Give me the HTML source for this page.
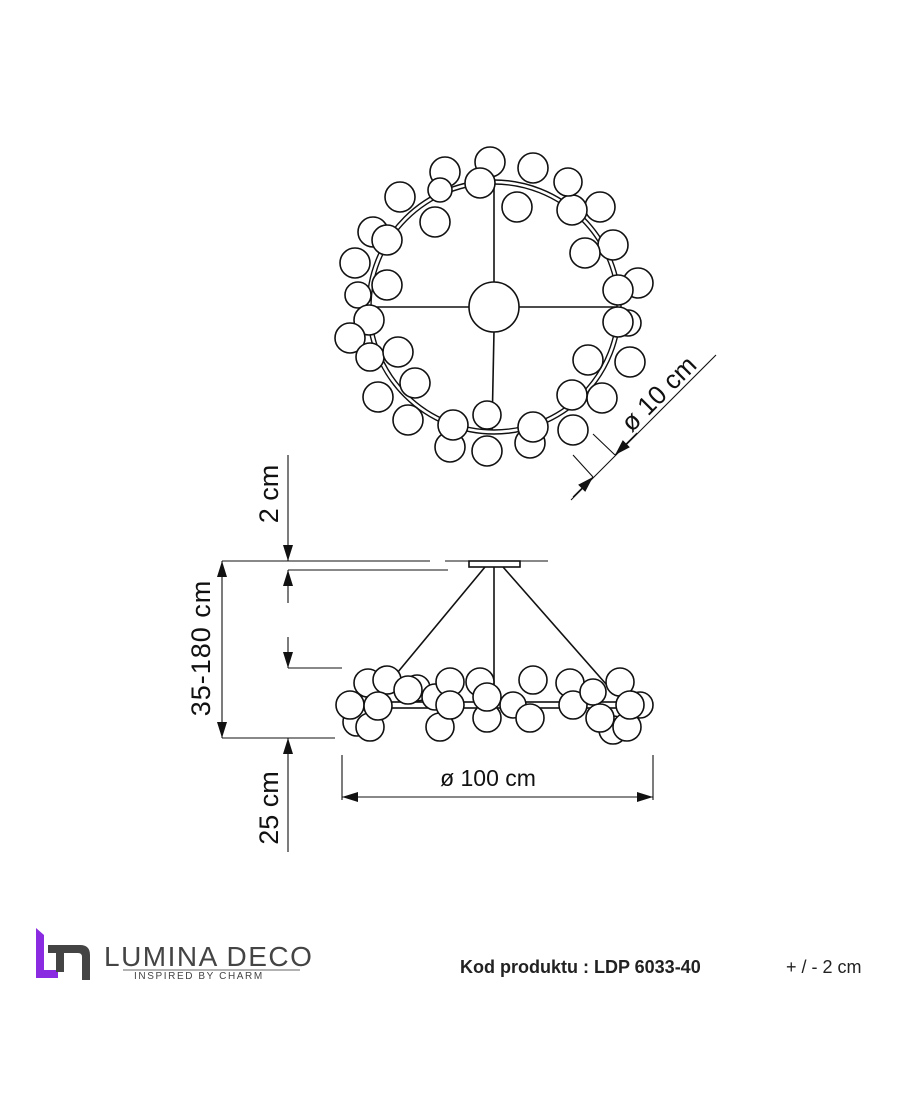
<!DOCTYPE html>
<html><head><meta charset="utf-8"><style>
html,body{margin:0;padding:0;background:#fff;width:915px;height:1109px;overflow:hidden}
svg{display:block}
text{font-family:"Liberation Sans",sans-serif}
</style></head><body>
<svg width="915" height="1109" viewBox="0 0 915 1109" xmlns="http://www.w3.org/2000/svg">
<defs>
<marker id="a" viewBox="0 0 16 10" refX="16" refY="5" markerWidth="16" markerHeight="10" markerUnits="userSpaceOnUse" orient="auto-start-reverse"><path d="M0,0L16,5L0,10z" fill="#111"/></marker>
</defs>
<g fill="#fff" stroke="#111" stroke-width="1.6">
<circle cx="494" cy="307" r="127" fill="none" stroke-width="1.4"/>
<circle cx="494" cy="307" r="123" fill="none" stroke-width="1.4"/>
<line x1="494" y1="184" x2="494" y2="283"/>
<line x1="494" y1="331" x2="492" y2="430"/>
<line x1="370" y1="307" x2="470" y2="307"/>
<line x1="518" y1="307" x2="618" y2="307"/>
<circle cx="494" cy="307" r="25"/>
<g>
<circle cx="490" cy="162" r="15"/><circle cx="445" cy="172" r="15"/><circle cx="440" cy="190" r="12"/><circle cx="480" cy="183" r="15"/>
<circle cx="400" cy="197" r="15"/><circle cx="435" cy="222" r="15"/><circle cx="373" cy="232" r="15"/><circle cx="387" cy="240" r="15"/>
<circle cx="355" cy="263" r="15"/><circle cx="387" cy="285" r="15"/><circle cx="358" cy="295" r="13"/><circle cx="369" cy="320" r="15"/>
<circle cx="350" cy="338" r="15"/><circle cx="370" cy="357" r="14"/><circle cx="398" cy="352" r="15"/><circle cx="415" cy="383" r="15"/>
<circle cx="378" cy="397" r="15"/><circle cx="408" cy="420" r="15"/><circle cx="450" cy="447" r="15"/><circle cx="453" cy="425" r="15"/>
<circle cx="487" cy="415" r="14"/><circle cx="487" cy="451" r="15"/><circle cx="530" cy="443" r="15"/><circle cx="533" cy="427" r="15"/>
<circle cx="573" cy="430" r="15"/><circle cx="602" cy="398" r="15"/><circle cx="572" cy="395" r="15"/><circle cx="630" cy="362" r="15"/>
<circle cx="588" cy="360" r="15"/><circle cx="628" cy="323" r="13"/><circle cx="618" cy="322" r="15"/><circle cx="638" cy="283" r="15"/>
<circle cx="618" cy="290" r="15"/><circle cx="613" cy="245" r="15"/><circle cx="585" cy="253" r="15"/><circle cx="600" cy="207" r="15"/>
<circle cx="572" cy="210" r="15"/><circle cx="568" cy="182" r="14"/><circle cx="533" cy="168" r="15"/><circle cx="517" cy="207" r="15"/>
</g>
<rect x="469" y="561" width="51" height="6"/>
<line x1="485" y1="567" x2="383" y2="690"/>
<line x1="494" y1="567" x2="494" y2="690"/>
<line x1="503" y1="567" x2="613" y2="692"/>
<rect x="380" y="702" width="240" height="6" fill="none"/>
<g>
<circle cx="368" cy="683" r="14"/><circle cx="387" cy="680" r="14"/><circle cx="357" cy="722" r="14"/><circle cx="370" cy="727" r="14"/>
<circle cx="350" cy="705" r="14"/><circle cx="378" cy="706" r="14"/><circle cx="417" cy="688" r="13"/><circle cx="408" cy="690" r="14"/>
<circle cx="440" cy="727" r="14"/><circle cx="435" cy="697" r="13"/><circle cx="450" cy="682" r="14"/><circle cx="450" cy="705" r="14"/>
<circle cx="480" cy="682" r="14"/><circle cx="487" cy="718" r="14"/><circle cx="487" cy="697" r="14"/><circle cx="513" cy="705" r="13"/>
<circle cx="533" cy="680" r="14"/><circle cx="530" cy="718" r="14"/><circle cx="570" cy="683" r="14"/><circle cx="573" cy="705" r="14"/>
<circle cx="593" cy="692" r="13"/><circle cx="613" cy="730" r="14"/><circle cx="627" cy="727" r="14"/><circle cx="600" cy="718" r="14"/>
<circle cx="620" cy="682" r="14"/><circle cx="640" cy="705" r="13"/><circle cx="630" cy="705" r="14"/>
</g>
</g>
<g stroke="#111" stroke-width="1.1" fill="none">
<line x1="222" y1="561" x2="430" y2="561"/><line x1="445" y1="561" x2="548" y2="561"/>
<line x1="288" y1="570" x2="448" y2="570"/>
<line x1="288" y1="668" x2="342" y2="668"/>
<line x1="222" y1="738" x2="335" y2="738"/>
<line x1="288" y1="455" x2="288" y2="561" marker-end="url(#a)"/>
<line x1="288" y1="603" x2="288" y2="570" marker-end="url(#a)"/>
<line x1="288" y1="637" x2="288" y2="668" marker-end="url(#a)"/>
<line x1="288" y1="852" x2="288" y2="738" marker-end="url(#a)"/>
<line x1="222" y1="561" x2="222" y2="738" marker-start="url(#a)" marker-end="url(#a)"/>
<line x1="342" y1="755" x2="342" y2="800"/><line x1="653" y1="755" x2="653" y2="800"/>
<line x1="342" y1="797" x2="653" y2="797" marker-start="url(#a)" marker-end="url(#a)"/>
<line x1="571" y1="500" x2="716" y2="355"/>
<line x1="573" y1="455" x2="593" y2="477"/><line x1="593" y1="434" x2="615" y2="455"/>
<line x1="573" y1="497" x2="593" y2="477" marker-end="url(#a)"/>
<line x1="637" y1="433" x2="615" y2="455" marker-end="url(#a)"/>
</g>
<g fill="#111">
<text x="660" y="395" transform="rotate(-45 660 395)" text-anchor="middle" dominant-baseline="middle" font-size="26">ø 10 cm</text>
<text transform="translate(278,494) rotate(-90)" text-anchor="middle" font-size="27">2 cm</text>
<text transform="translate(210,648) rotate(-90)" text-anchor="middle" font-size="27" letter-spacing="1">35-180 cm</text>
<text transform="translate(278,808) rotate(-90)" text-anchor="middle" font-size="27">25 cm</text>
<text x="488" y="786" text-anchor="middle" font-size="23">ø 100 cm</text>
</g>
<g>
<path d="M36,928 L44,935 L44,970 L58,970 L58,978 L36,978 Z" fill="#8a2be2"/>
<path d="M48,945 L80,945 Q90,945 90,955 L90,980 L82,980 L82,957 Q82,953 78,953 L64,953 L64,972 L56,972 L56,953 L48,953 Z" fill="#444"/>
<text x="104" y="966" font-size="28" fill="#444" letter-spacing="1.5">LUMINA DECO</text>
<line x1="123" y1="970" x2="300" y2="970" stroke="#666" stroke-width="1"/>
<text x="134" y="979" font-size="10" fill="#444" letter-spacing="1.6">INSPIRED BY CHARM</text>
</g>
<text x="460" y="973" font-size="18" fill="#222" font-weight="bold">Kod produktu : LDP 6033-40</text>
<text x="786" y="973" font-size="18" fill="#222">+ / - 2 cm</text>
</svg>
</body></html>
